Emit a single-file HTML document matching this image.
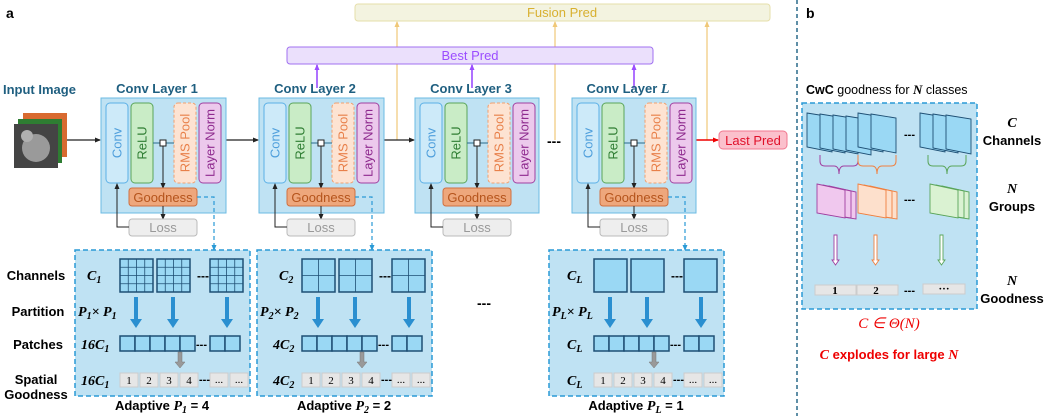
<!DOCTYPE html>
<html><head><meta charset="utf-8"><style>
body{margin:0;background:#fff}
svg{display:block;font-family:"Liberation Sans",sans-serif}
.t{font-size:13px}
.b{font-weight:bold}
.m{font-family:"Liberation Serif",serif;font-style:italic;font-weight:bold}
</style></head><body>
<svg width="1046" height="416" viewBox="0 0 1046 416" xmlns="http://www.w3.org/2000/svg">
<defs>
<marker id="ak" markerWidth="6" markerHeight="6" refX="5" refY="3" orient="auto" markerUnits="userSpaceOnUse"><path d="M0,0.5 L6,3 L0,5.5z" fill="#222"/></marker>
<marker id="ab" markerWidth="6" markerHeight="6" refX="5" refY="3" orient="auto" markerUnits="userSpaceOnUse"><path d="M0,0.5 L6,3 L0,5.5z" fill="#2a9ad6"/></marker>
<marker id="ap" markerWidth="6" markerHeight="6" refX="5" refY="3" orient="auto" markerUnits="userSpaceOnUse"><path d="M0,0.5 L6,3 L0,5.5z" fill="#9b4dff"/></marker>
<marker id="ay" markerWidth="6" markerHeight="6" refX="5" refY="3" orient="auto" markerUnits="userSpaceOnUse"><path d="M0,0.5 L6,3 L0,5.5z" fill="#f0c878"/></marker>
<marker id="ar" markerWidth="6" markerHeight="6" refX="5" refY="3" orient="auto" markerUnits="userSpaceOnUse"><path d="M0,0.5 L6,3 L0,5.5z" fill="#e00"/></marker>
</defs>

<text x="6" y="18" font-size="14" class="b">a</text>
<text x="806" y="18" font-size="14" class="b">b</text>
<line x1="797" y1="0" x2="797" y2="416" stroke="#2a6a8a" stroke-width="1.5" stroke-dasharray="4,3"/>

<rect x="355" y="4" width="415" height="17" rx="3" fill="#f3f3e0" stroke="#e6dfaa"/>
<text x="562" y="17" text-anchor="middle" font-size="13" fill="#d8b030">Fusion Pred</text>
<line x1="397" y1="140" x2="397" y2="22" stroke="#f0c878" stroke-width="1.2" marker-end="url(#ay)"/>
<line x1="555" y1="140" x2="555" y2="22" stroke="#f0c878" stroke-width="1.2" marker-end="url(#ay)"/>
<line x1="707" y1="140" x2="707" y2="22" stroke="#f0c878" stroke-width="1.2" marker-end="url(#ay)"/>
<rect x="287" y="47" width="366" height="17" rx="3" fill="#ebe0fc" stroke="#a070f0"/>
<text x="470" y="60" text-anchor="middle" font-size="13" fill="#9b4dff">Best Pred</text>
<line x1="317" y1="88" x2="317" y2="65" stroke="#9b4dff" stroke-width="1.6" marker-end="url(#ap)"/>
<line x1="472" y1="88" x2="472" y2="65" stroke="#9b4dff" stroke-width="1.6" marker-end="url(#ap)"/>
<line x1="634" y1="88" x2="634" y2="65" stroke="#9b4dff" stroke-width="1.6" marker-end="url(#ap)"/>

<text x="3" y="94" font-size="13" class="b" fill="#1f5f80">Input Image</text>
<rect x="23" y="113" width="44" height="44" fill="#d86a30"/>
<rect x="18" y="119" width="44" height="44" fill="#2e7d32"/>
<rect x="14" y="124" width="44" height="44" fill="#444"/>
<ellipse cx="36" cy="148" rx="14" ry="14" fill="#9a9a9a"/>
<circle cx="27" cy="136" r="6" fill="#b0b0b0"/>
<line x1="67" y1="140" x2="100" y2="140" stroke="#222" stroke-width="1.2" marker-end="url(#ak)"/>

<line x1="226" y1="140" x2="258" y2="140" stroke="#222" stroke-width="1.2" marker-end="url(#ak)"/>
<line x1="384" y1="140" x2="414" y2="140" stroke="#222" stroke-width="1.2" marker-end="url(#ak)"/>
<text x="554" y="146" text-anchor="middle" font-size="14" class="b">---</text>
<line x1="696" y1="140" x2="718" y2="140" stroke="#e00" stroke-width="1.5" marker-end="url(#ar)"/>
<rect x="719" y="131" width="68" height="18" rx="4" fill="#fbc0cc" stroke="#f07890"/>
<text x="753" y="145" text-anchor="middle" font-size="13" fill="#e0102a">Last Pred</text>

<g transform="translate(101,98)">
<text x="56" y="-5" text-anchor="middle" font-size="13" class="b" fill="#1f5f80">Conv Layer 1</text>
<rect x="0" y="0" width="125" height="115" fill="#bfe2f3" stroke="#6bbbe3"/>
<rect x="5" y="5" width="22" height="80" rx="4" fill="#cdeaf9" stroke="#5bb0e6"/>
<text transform="translate(20.5,45) rotate(-90)" text-anchor="middle" class="t" fill="#4f9fdc">Conv</text>
<rect x="30" y="5" width="22" height="80" rx="4" fill="#c9ecc6" stroke="#5aa55a"/>
<text transform="translate(45.5,45) rotate(-90)" text-anchor="middle" class="t" fill="#2e7d32">ReLU</text>
<rect x="73" y="5" width="22" height="80" rx="4" fill="#fde3d2" stroke="#f0a070" stroke-dasharray="3,2"/>
<text transform="translate(88.5,45) rotate(-90)" text-anchor="middle" class="t" fill="#e8804a">RMS Pool</text>
<rect x="98" y="5" width="22" height="80" rx="4" fill="#ecc9ec" stroke="#a040a0"/>
<text transform="translate(113.5,45) rotate(-90)" text-anchor="middle" class="t" fill="#8e2a8e">Layer Norm</text>
<line x1="52" y1="45" x2="73" y2="45" stroke="#2a6a8a"/>
<line x1="62" y1="48" x2="62" y2="90" stroke="#222" marker-end="url(#ak)"/>
<rect x="59" y="42" width="6" height="6" fill="#fff" stroke="#222"/>
<rect x="28" y="90" width="68" height="18" rx="3" fill="#eea77c" stroke="#d07040"/>
<text x="62" y="104" text-anchor="middle" class="t" fill="#b5541c">Goodness</text>
<line x1="62" y1="108" x2="62" y2="121" stroke="#222" marker-end="url(#ak)"/>
<rect x="28" y="121" width="68" height="17" rx="3" fill="#eee" stroke="#bbb"/>
<text x="62" y="134" text-anchor="middle" class="t" fill="#999">Loss</text>
<polyline points="28,129 16,129 16,86" fill="none" stroke="#222" marker-end="url(#ak)"/>
<polyline points="96,99 113,99 113,152" fill="none" stroke="#2a9ad6" stroke-width="1.2" stroke-dasharray="4,3" marker-end="url(#ab)"/>
</g>
<g transform="translate(259,98)">
<text x="56" y="-5" text-anchor="middle" font-size="13" class="b" fill="#1f5f80">Conv Layer 2</text>
<rect x="0" y="0" width="125" height="115" fill="#bfe2f3" stroke="#6bbbe3"/>
<rect x="5" y="5" width="22" height="80" rx="4" fill="#cdeaf9" stroke="#5bb0e6"/>
<text transform="translate(20.5,45) rotate(-90)" text-anchor="middle" class="t" fill="#4f9fdc">Conv</text>
<rect x="30" y="5" width="22" height="80" rx="4" fill="#c9ecc6" stroke="#5aa55a"/>
<text transform="translate(45.5,45) rotate(-90)" text-anchor="middle" class="t" fill="#2e7d32">ReLU</text>
<rect x="73" y="5" width="22" height="80" rx="4" fill="#fde3d2" stroke="#f0a070" stroke-dasharray="3,2"/>
<text transform="translate(88.5,45) rotate(-90)" text-anchor="middle" class="t" fill="#e8804a">RMS Pool</text>
<rect x="98" y="5" width="22" height="80" rx="4" fill="#ecc9ec" stroke="#a040a0"/>
<text transform="translate(113.5,45) rotate(-90)" text-anchor="middle" class="t" fill="#8e2a8e">Layer Norm</text>
<line x1="52" y1="45" x2="73" y2="45" stroke="#2a6a8a"/>
<line x1="62" y1="48" x2="62" y2="90" stroke="#222" marker-end="url(#ak)"/>
<rect x="59" y="42" width="6" height="6" fill="#fff" stroke="#222"/>
<rect x="28" y="90" width="68" height="18" rx="3" fill="#eea77c" stroke="#d07040"/>
<text x="62" y="104" text-anchor="middle" class="t" fill="#b5541c">Goodness</text>
<line x1="62" y1="108" x2="62" y2="121" stroke="#222" marker-end="url(#ak)"/>
<rect x="28" y="121" width="68" height="17" rx="3" fill="#eee" stroke="#bbb"/>
<text x="62" y="134" text-anchor="middle" class="t" fill="#999">Loss</text>
<polyline points="28,129 16,129 16,86" fill="none" stroke="#222" marker-end="url(#ak)"/>
<polyline points="96,99 113,99 113,152" fill="none" stroke="#2a9ad6" stroke-width="1.2" stroke-dasharray="4,3" marker-end="url(#ab)"/>
</g>
<g transform="translate(415,98)">
<text x="56" y="-5" text-anchor="middle" font-size="13" class="b" fill="#1f5f80">Conv Layer 3</text>
<rect x="0" y="0" width="124" height="115" fill="#bfe2f3" stroke="#6bbbe3"/>
<rect x="5" y="5" width="22" height="80" rx="4" fill="#cdeaf9" stroke="#5bb0e6"/>
<text transform="translate(20.5,45) rotate(-90)" text-anchor="middle" class="t" fill="#4f9fdc">Conv</text>
<rect x="30" y="5" width="22" height="80" rx="4" fill="#c9ecc6" stroke="#5aa55a"/>
<text transform="translate(45.5,45) rotate(-90)" text-anchor="middle" class="t" fill="#2e7d32">ReLU</text>
<rect x="73" y="5" width="22" height="80" rx="4" fill="#fde3d2" stroke="#f0a070" stroke-dasharray="3,2"/>
<text transform="translate(88.5,45) rotate(-90)" text-anchor="middle" class="t" fill="#e8804a">RMS Pool</text>
<rect x="98" y="5" width="22" height="80" rx="4" fill="#ecc9ec" stroke="#a040a0"/>
<text transform="translate(113.5,45) rotate(-90)" text-anchor="middle" class="t" fill="#8e2a8e">Layer Norm</text>
<line x1="52" y1="45" x2="73" y2="45" stroke="#2a6a8a"/>
<line x1="62" y1="48" x2="62" y2="90" stroke="#222" marker-end="url(#ak)"/>
<rect x="59" y="42" width="6" height="6" fill="#fff" stroke="#222"/>
<rect x="28" y="90" width="68" height="18" rx="3" fill="#eea77c" stroke="#d07040"/>
<text x="62" y="104" text-anchor="middle" class="t" fill="#b5541c">Goodness</text>
<line x1="62" y1="108" x2="62" y2="121" stroke="#222" marker-end="url(#ak)"/>
<rect x="28" y="121" width="68" height="17" rx="3" fill="#eee" stroke="#bbb"/>
<text x="62" y="134" text-anchor="middle" class="t" fill="#999">Loss</text>
<polyline points="28,129 16,129 16,86" fill="none" stroke="#222" marker-end="url(#ak)"/>
</g>
<g transform="translate(572,98)">
<text x="56" y="-5" text-anchor="middle" font-size="13" class="b" fill="#1f5f80">Conv Layer <tspan class="m" font-size="14">L</tspan></text>
<rect x="0" y="0" width="124" height="115" fill="#bfe2f3" stroke="#6bbbe3"/>
<rect x="5" y="5" width="22" height="80" rx="4" fill="#cdeaf9" stroke="#5bb0e6"/>
<text transform="translate(20.5,45) rotate(-90)" text-anchor="middle" class="t" fill="#4f9fdc">Conv</text>
<rect x="30" y="5" width="22" height="80" rx="4" fill="#c9ecc6" stroke="#5aa55a"/>
<text transform="translate(45.5,45) rotate(-90)" text-anchor="middle" class="t" fill="#2e7d32">ReLU</text>
<rect x="73" y="5" width="22" height="80" rx="4" fill="#fde3d2" stroke="#f0a070" stroke-dasharray="3,2"/>
<text transform="translate(88.5,45) rotate(-90)" text-anchor="middle" class="t" fill="#e8804a">RMS Pool</text>
<rect x="98" y="5" width="22" height="80" rx="4" fill="#ecc9ec" stroke="#a040a0"/>
<text transform="translate(113.5,45) rotate(-90)" text-anchor="middle" class="t" fill="#8e2a8e">Layer Norm</text>
<line x1="52" y1="45" x2="73" y2="45" stroke="#2a6a8a"/>
<line x1="62" y1="48" x2="62" y2="90" stroke="#222" marker-end="url(#ak)"/>
<rect x="59" y="42" width="6" height="6" fill="#fff" stroke="#222"/>
<rect x="28" y="90" width="68" height="18" rx="3" fill="#eea77c" stroke="#d07040"/>
<text x="62" y="104" text-anchor="middle" class="t" fill="#b5541c">Goodness</text>
<line x1="62" y1="108" x2="62" y2="121" stroke="#222" marker-end="url(#ak)"/>
<rect x="28" y="121" width="68" height="17" rx="3" fill="#eee" stroke="#bbb"/>
<text x="62" y="134" text-anchor="middle" class="t" fill="#999">Loss</text>
<polyline points="28,129 16,129 16,86" fill="none" stroke="#222" marker-end="url(#ak)"/>
<polyline points="96,99 113,99 113,152" fill="none" stroke="#2a9ad6" stroke-width="1.2" stroke-dasharray="4,3" marker-end="url(#ab)"/>
</g>

<g font-size="13" class="b" text-anchor="middle">
<text x="36" y="280">Channels</text>
<text x="38" y="316">Partition</text>
<text x="38" y="349">Patches</text>
<text x="36" y="384">Spatial</text>
<text x="36" y="399">Goodness</text>
</g>
<text x="484" y="308" font-size="14" class="b" text-anchor="middle">---</text>

<g transform="translate(75,250)">
<rect x="0" y="0" width="175" height="146" fill="#bfe2f3" stroke="#2a9ad6" stroke-width="1.5" stroke-dasharray="5,3"/>
<text x="12" y="30" font-size="14" class="m">C<tspan font-size="10" dy="3">1</tspan></text>
<text x="3" y="66" font-size="14" class="m">P<tspan font-size="10" dy="3">1</tspan><tspan dy="-3">× P</tspan><tspan font-size="10" dy="3">1</tspan></text>
<text x="6" y="99" font-size="14" class="m">16C<tspan font-size="10" dy="3">1</tspan></text>
<text x="6" y="135" font-size="14" class="m">16C<tspan font-size="10" dy="3">1</tspan></text>
<g fill="#9ad8f4" stroke="#1e4f74" stroke-width="1.5">
<rect x="45" y="9" width="33" height="33"/><rect x="82" y="9" width="33" height="33"/><rect x="135" y="9" width="33" height="33"/>
</g>
<g stroke="#1e4f74" stroke-width="0.8">
<path d="M53.25,9v33M61.5,9v33M69.75,9v33M45,17.25h33M45,25.5h33M45,33.75h33"/>
<path d="M90.25,9v33M98.5,9v33M106.75,9v33M82,17.25h33M82,25.5h33M82,33.75h33"/>
<path d="M143.25,9v33M151.5,9v33M159.75,9v33M135,17.25h33M135,25.5h33M135,33.75h33"/>
</g>
<text x="122" y="30" font-size="12" class="b">---</text>
<g fill="#2a8fd0"><path d="M59,47h4v22h4l-6,9l-6,-9h4z"/><path d="M96,47h4v22h4l-6,9l-6,-9h4z"/><path d="M150,47h4v22h4l-6,9l-6,-9h4z"/></g>
<g fill="#9ad8f4" stroke="#1e4f74" stroke-width="1.5">
<rect x="45" y="86" width="15" height="15"/><rect x="60" y="86" width="15" height="15"/><rect x="75" y="86" width="15" height="15"/><rect x="90" y="86" width="15" height="15"/><rect x="105" y="86" width="15" height="15"/><rect x="135" y="86" width="15" height="15"/><rect x="150" y="86" width="15" height="15"/>
</g>
<text x="121" y="98" font-size="11" class="b">---</text>
<path d="M103,102h4v10h3l-5,6l-5,-6h3z" fill="#999" stroke="#777" stroke-width="0.5"/>
<g fill="#e6e6e6" stroke="#ccc"><rect x="45" y="123" width="18" height="14"/><rect x="65" y="123" width="18" height="14"/><rect x="85" y="123" width="18" height="14"/><rect x="105" y="123" width="18" height="14"/><rect x="135" y="123" width="18" height="14"/><rect x="155" y="123" width="18" height="14"/></g>
<g font-size="11" text-anchor="middle" font-family="Liberation Serif,serif"><text x="54" y="134">1</text><text x="74" y="134">2</text><text x="94" y="134">3</text><text x="114" y="134">4</text><text x="144" y="133">...</text><text x="164" y="133">...</text></g>
<text x="124" y="133" font-size="11" class="b">---</text>
<text x="87" y="160" font-size="13" class="b" text-anchor="middle">Adaptive <tspan class="m" font-size="14">P</tspan><tspan class="m" font-size="10" dy="3">1</tspan><tspan dy="-3"> = 4</tspan></text>
</g>

<g transform="translate(257,250)">
<rect x="0" y="0" width="175" height="146" fill="#bfe2f3" stroke="#2a9ad6" stroke-width="1.5" stroke-dasharray="5,3"/>
<text x="22" y="30" font-size="14" class="m">C<tspan font-size="10" dy="3">2</tspan></text>
<text x="3" y="66" font-size="14" class="m">P<tspan font-size="10" dy="3">2</tspan><tspan dy="-3">× P</tspan><tspan font-size="10" dy="3">2</tspan></text>
<text x="16" y="99" font-size="14" class="m">4C<tspan font-size="10" dy="3">2</tspan></text>
<text x="16" y="135" font-size="14" class="m">4C<tspan font-size="10" dy="3">2</tspan></text>
<g fill="#9ad8f4" stroke="#1e4f74" stroke-width="1.5">
<rect x="45" y="9" width="33" height="33"/><rect x="82" y="9" width="33" height="33"/><rect x="135" y="9" width="33" height="33"/>
</g>
<g stroke="#1e4f74" stroke-width="0.8"><path d="M61.5,9v33M45,25.5h33M98.5,9v33M82,25.5h33M151.5,9v33M135,25.5h33"/></g>
<text x="122" y="30" font-size="12" class="b">---</text>
<g fill="#2a8fd0"><path d="M59,47h4v22h4l-6,9l-6,-9h4z"/><path d="M96,47h4v22h4l-6,9l-6,-9h4z"/><path d="M150,47h4v22h4l-6,9l-6,-9h4z"/></g>
<g fill="#9ad8f4" stroke="#1e4f74" stroke-width="1.5">
<rect x="45" y="86" width="15" height="15"/><rect x="60" y="86" width="15" height="15"/><rect x="75" y="86" width="15" height="15"/><rect x="90" y="86" width="15" height="15"/><rect x="105" y="86" width="15" height="15"/><rect x="135" y="86" width="15" height="15"/><rect x="150" y="86" width="15" height="15"/>
</g>
<text x="121" y="98" font-size="11" class="b">---</text>
<path d="M103,102h4v10h3l-5,6l-5,-6h3z" fill="#999" stroke="#777" stroke-width="0.5"/>
<g fill="#e6e6e6" stroke="#ccc"><rect x="45" y="123" width="18" height="14"/><rect x="65" y="123" width="18" height="14"/><rect x="85" y="123" width="18" height="14"/><rect x="105" y="123" width="18" height="14"/><rect x="135" y="123" width="18" height="14"/><rect x="155" y="123" width="18" height="14"/></g>
<g font-size="11" text-anchor="middle" font-family="Liberation Serif,serif"><text x="54" y="134">1</text><text x="74" y="134">2</text><text x="94" y="134">3</text><text x="114" y="134">4</text><text x="144" y="133">...</text><text x="164" y="133">...</text></g>
<text x="124" y="133" font-size="11" class="b">---</text>
<text x="87" y="160" font-size="13" class="b" text-anchor="middle">Adaptive <tspan class="m" font-size="14">P</tspan><tspan class="m" font-size="10" dy="3">2</tspan><tspan dy="-3"> = 2</tspan></text>
</g>

<g transform="translate(549,250)">
<rect x="0" y="0" width="175" height="146" fill="#bfe2f3" stroke="#2a9ad6" stroke-width="1.5" stroke-dasharray="5,3"/>
<text x="18" y="30" font-size="14" class="m">C<tspan font-size="10" dy="3">L</tspan></text>
<text x="3" y="66" font-size="14" class="m">P<tspan font-size="10" dy="3">L</tspan><tspan dy="-3">× P</tspan><tspan font-size="10" dy="3">L</tspan></text>
<text x="18" y="99" font-size="14" class="m">C<tspan font-size="10" dy="3">L</tspan></text>
<text x="18" y="135" font-size="14" class="m">C<tspan font-size="10" dy="3">L</tspan></text>
<g fill="#9ad8f4" stroke="#1e4f74" stroke-width="1.5">
<rect x="45" y="9" width="33" height="33"/><rect x="82" y="9" width="33" height="33"/><rect x="135" y="9" width="33" height="33"/>
</g>
<text x="122" y="30" font-size="12" class="b">---</text>
<g fill="#2a8fd0"><path d="M59,47h4v22h4l-6,9l-6,-9h4z"/><path d="M96,47h4v22h4l-6,9l-6,-9h4z"/><path d="M150,47h4v22h4l-6,9l-6,-9h4z"/></g>
<g fill="#9ad8f4" stroke="#1e4f74" stroke-width="1.5">
<rect x="45" y="86" width="15" height="15"/><rect x="60" y="86" width="15" height="15"/><rect x="75" y="86" width="15" height="15"/><rect x="90" y="86" width="15" height="15"/><rect x="105" y="86" width="15" height="15"/><rect x="135" y="86" width="15" height="15"/><rect x="150" y="86" width="15" height="15"/>
</g>
<text x="121" y="98" font-size="11" class="b">---</text>
<path d="M103,102h4v10h3l-5,6l-5,-6h3z" fill="#999" stroke="#777" stroke-width="0.5"/>
<g fill="#e6e6e6" stroke="#ccc"><rect x="45" y="123" width="18" height="14"/><rect x="65" y="123" width="18" height="14"/><rect x="85" y="123" width="18" height="14"/><rect x="105" y="123" width="18" height="14"/><rect x="135" y="123" width="18" height="14"/><rect x="155" y="123" width="18" height="14"/></g>
<g font-size="11" text-anchor="middle" font-family="Liberation Serif,serif"><text x="54" y="134">1</text><text x="74" y="134">2</text><text x="94" y="134">3</text><text x="114" y="134">4</text><text x="144" y="133">...</text><text x="164" y="133">...</text></g>
<text x="124" y="133" font-size="11" class="b">---</text>
<text x="87" y="160" font-size="13" class="b" text-anchor="middle">Adaptive <tspan class="m" font-size="14">P</tspan><tspan class="m" font-size="10" dy="3">L</tspan><tspan dy="-3"> = 1</tspan></text>
</g>

<text x="806" y="94" font-size="12.5"><tspan font-weight="bold">CwC</tspan> goodness for <tspan class="m" font-size="13">N</tspan> classes</text>
<rect x="802" y="103" width="175" height="206" fill="#bfe2f3" stroke="#2a9ad6" stroke-width="1.5" stroke-dasharray="5,3"/>
<g fill="#9ad8f4" stroke="#1e4f74" stroke-width="0.9">
<polygon points="807,113 832,117 832,152 807,147"/>
<polygon points="820,114 845,118 845,153 820,148"/>
<polygon points="833,115 858,119 858,154 833,149"/>
<polygon points="846,116 871,120 871,155 846,150"/>
<polygon points="858,113 883,117 883,152 858,147"/>
<polygon points="871,114 896,118 896,153 871,148"/>
<polygon points="920,113 945,117 945,152 920,147"/>
<polygon points="933,114 958,118 958,153 933,148"/>
<polygon points="946,115 971,119 971,154 946,149"/>
</g>
<text x="904" y="138" font-size="11" class="b">---</text>
<path d="M820,155 v6 q0,5 5,5 h9 q5,0 5,8 q0,-8 5,-8 h9 q5,0 5,-5 v-6" fill="none" stroke="#a040a0" stroke-width="1"/>
<path d="M858,155 v6 q0,5 5,5 h9 q5,0 5,8 q0,-8 5,-8 h9 q5,0 5,-5 v-6" fill="none" stroke="#f08040" stroke-width="1"/>
<path d="M928,155 v6 q0,5 5,5 h9 q5,0 5,8 q0,-8 5,-8 h9 q5,0 5,-5 v-6" fill="none" stroke="#5aa55a" stroke-width="1"/>
<g stroke-width="0.9">
<g fill="#f0c8ee" stroke="#a040a0"><polygon points="829,186 856,192 856,219 829,215"/><polygon points="823,185 851,191 851,218 823,214"/><polygon points="817,184 845,190 845,218 817,213"/></g>
<g fill="#fde0cc" stroke="#f08040"><polygon points="870,186 897,192 897,219 870,215"/><polygon points="864,185 892,191 892,218 864,214"/><polygon points="858,184 886,190 886,218 858,213"/></g>
<g fill="#daf2d2" stroke="#5aa55a"><polygon points="942,186 969,192 969,219 942,215"/><polygon points="936,185 964,191 964,218 936,214"/><polygon points="930,184 958,190 958,218 930,213"/></g>
</g>
<text x="904" y="203" font-size="11" class="b">---</text>
<g stroke-width="0.9" fill="#fff">
<path d="M834,235h3v25h2l-3.5,5l-3.5,-5h2z" stroke="#a040a0"/>
<path d="M874,235h3v25h2l-3.5,5l-3.5,-5h2z" stroke="#f08040"/>
<path d="M940,235h3v25h2l-3.5,5l-3.5,-5h2z" stroke="#5aa55a"/>
</g>
<g fill="#e6e6e6" stroke="#ccc"><rect x="815" y="285" width="41" height="10"/><rect x="857" y="285" width="41" height="10"/><rect x="923" y="284" width="42" height="10"/></g>
<g font-size="11" text-anchor="middle" font-family="Liberation Serif,serif" class="b"><text x="835" y="294">1</text><text x="876" y="294">2</text><text x="944" y="292">···</text></g>
<text x="904" y="294" font-size="11" class="b">---</text>
<g font-size="13" class="b" text-anchor="middle">
<text x="1012" y="127" class="m" font-size="14">C</text><text x="1012" y="145">Channels</text>
<text x="1012" y="193" class="m" font-size="14">N</text><text x="1012" y="211">Groups</text>
<text x="1012" y="285" class="m" font-size="14">N</text><text x="1012" y="303">Goodness</text>
</g>
<text x="889" y="328" font-size="15" fill="#e00" text-anchor="middle" font-family="Liberation Serif,serif" font-style="italic">C ∈ Θ(N)</text>
<text x="889" y="359" font-size="13" fill="#e00" text-anchor="middle" class="b"><tspan class="m" font-size="14">C</tspan> explodes for large <tspan class="m" font-size="14">N</tspan></text>
</svg>
</body></html>
